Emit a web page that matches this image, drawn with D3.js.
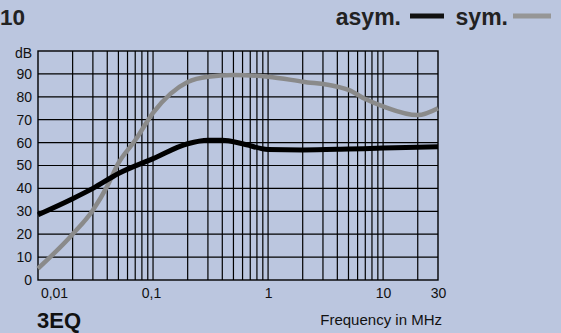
<!DOCTYPE html>
<html>
<head>
<meta charset="utf-8">
<script src="https://cdn.jsdelivr.net/npm/d3@7"></script>
<style>
  html, body { margin: 0; padding: 0; background: #bbc6df; }
  svg { display: block; font-family: "Liberation Sans", Arial, sans-serif; }
</style>
</head>
<body>
<svg id="chart" width="561" height="333"></svg>
<script>
// values (frequency in MHz, attenuation in dB)
const asymFreq = [0.01, 0.02, 0.03, 0.05, 0.1, 0.2, 0.3, 0.4, 0.6, 1, 2, 5, 10, 30];
const asymDb   = [28.5, 35.5, 40, 46.5, 53, 59.5, 61, 61, 59.5, 57, 56.8, 57.2, 57.6, 58.2];
const symFreq  = [0.01, 0.02, 0.03, 0.04, 0.05, 0.07, 0.1, 0.2, 0.3, 0.5, 1, 2, 4, 5, 7, 10, 20, 30];
const symDb    = [5, 20, 30.5, 41, 51, 61, 73, 86.5, 88.8, 89.5, 88.8, 86.6, 84.4, 83, 79, 75.8, 72, 75];
const yTicks = [0, 10, 20, 30, 40, 50, 60, 70, 80, 90];
const xTickVals = [0.01, 0.1, 1, 10, 30];
const xTickLabels = ['0,01', '0,1', '1', '10', '30'];

const svg = d3.select('#chart');
const margin = { left: 38, top: 51, right: 123, bottom: 53 };
const width = 561 - margin.left - margin.right;
const height = 333 - margin.top - margin.bottom;

const x = d3.scaleLog().domain([0.01, 30]).range([0, width]);
const y = d3.scaleLinear().domain([0, 100]).range([height, 0]);

const g = svg.append('g').attr('transform', `translate(${margin.left},${margin.top})`);

// grid lines: every 1..9 per decade
let gridX = [];
for (let d = 0.01; d < 30; d *= 10) {
  for (let k = 1; k < 10; k++) {
    const v = +(d * k).toPrecision(3);
    if (v > 0.01 && v < 30) gridX.push(v);
  }
}
g.selectAll('.vgrid').data(gridX).join('line')
  .attr('class', 'vgrid')
  .attr('x1', d => x(d)).attr('x2', d => x(d))
  .attr('y1', 0).attr('y2', height)
  .attr('stroke', '#000').attr('stroke-width', 1.2);

g.selectAll('.hgrid').data(d3.range(10, 100, 10)).join('line')
  .attr('class', 'hgrid')
  .attr('x1', 0).attr('x2', width)
  .attr('y1', d => y(d)).attr('y2', d => y(d))
  .attr('stroke', '#000').attr('stroke-width', 1.2);

g.append('rect')
  .attr('width', width).attr('height', height)
  .attr('fill', 'none').attr('stroke', '#000').attr('stroke-width', 1.4);

// y axis labels
const yAxis = d3.axisLeft(y).tickValues(yTicks).tickSize(0).tickPadding(6);
const ya = g.append('g').call(yAxis);
ya.select('.domain').remove();
ya.selectAll('text').attr('font-size', '14px').attr('fill', '#111')
  .style('font-family', '"Liberation Sans", Arial, sans-serif');

g.append('text').attr('x', -6).attr('y', 7).attr('text-anchor', 'end')
  .attr('font-size', '14px').attr('fill', '#111').text('dB');

// x axis labels
const xAxis = d3.axisBottom(x).tickValues(xTickVals)
  .tickFormat((d, i) => xTickLabels[i]).tickSize(0).tickPadding(8);
const xa = g.append('g').attr('transform', `translate(0,${height})`).call(xAxis);
xa.select('.domain').remove();
xa.selectAll('text').attr('font-size', '14px').attr('fill', '#111')
  .style('font-family', '"Liberation Sans", Arial, sans-serif')
  .attr('dx', (d, i) => i === 0 ? 16 : (i === 1 ? -2 : 0));

// curves
const line = d3.line().x(d => x(d[0])).y(d => y(d[1])).curve(d3.curveMonotoneX);
g.append('path').datum(d3.zip(symFreq, symDb))
  .attr('d', line).attr('fill', 'none')
  .attr('stroke', '#8a8a8a').attr('stroke-width', 4.5);
g.append('path').datum(d3.zip(asymFreq, asymDb))
  .attr('d', line).attr('fill', 'none')
  .attr('stroke', '#000').attr('stroke-width', 5);

// titles and legend
svg.append('text').attr('x', 0).attr('y', 25).attr('font-size', '22.5px')
  .attr('font-weight', 'bold').attr('fill', '#222').text('10');
svg.append('text').attr('x', 401).attr('y', 24.5).attr('text-anchor', 'end')
  .attr('font-size', '23px').attr('font-weight', 'bold').attr('fill', '#222').text('asym.');
svg.append('line').attr('x1', 410).attr('x2', 444).attr('y1', 16).attr('y2', 16)
  .attr('stroke', '#111').attr('stroke-width', 5);
svg.append('text').attr('x', 508).attr('y', 24.5).attr('text-anchor', 'end')
  .attr('font-size', '23px').attr('font-weight', 'bold').attr('fill', '#222').text('sym.');
svg.append('line').attr('x1', 513).attr('x2', 551).attr('y1', 16).attr('y2', 16)
  .attr('stroke', '#969696').attr('stroke-width', 5);

svg.append('text').attr('x', 37).attr('y', 328).attr('font-size', '22px')
  .attr('font-weight', 'bold').attr('fill', '#111').text('3EQ');
svg.append('text').attr('x', 442).attr('y', 325).attr('text-anchor', 'end')
  .attr('font-size', '15px').attr('fill', '#111').text('Frequency in MHz');
</script>
</body>
</html>
